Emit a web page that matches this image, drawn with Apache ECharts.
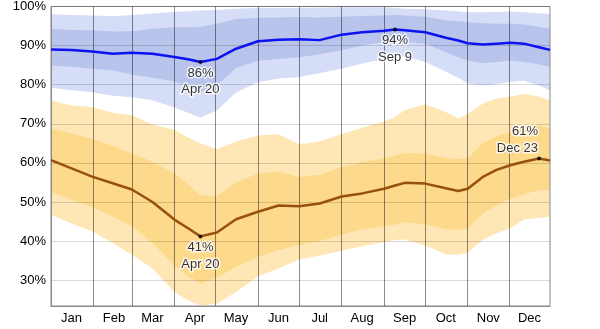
<!DOCTYPE html>
<html><head><meta charset="utf-8">
<script src="https://cdn.jsdelivr.net/npm/echarts@6/dist/echarts.min.js"></script>
<style>html,body{margin:0;padding:0;background:#fff}#c{width:600px;height:329px}</style>
</head><body><div id="c"></div>
<script>
const months = ['Jan','Feb','Mar','Apr','May','Jun','Jul','Aug','Sep','Oct','Nov','Dec'];
const monthLengths = [31,28,31,30,31,30,31,31,30,31,30,31];
const yTicks = [30,40,50,60,70,80,90,100];

const days = [0,15,30,45,59,74,90,100,109,121,135,151,166,181,196,212,227,243,251,258,273,288,297,304,315,325,335,345,356,364];

const blueMedian = [89.0,88.9,88.5,87.9,88.2,87.9,87.1,86.5,85.8,86.6,89.2,91.1,91.5,91.6,91.4,92.8,93.4,93.8,94.1,93.9,93.4,92.0,91.3,90.6,90.3,90.5,90.7,90.5,89.6,88.9];
const blueP75 = [94.3,94.0,93.9,93.6,93.7,94.3,94.7,94.7,94.8,95.6,96.8,97.1,97.2,97.3,97.2,97.4,97.6,97.7,97.8,97.7,97.4,96.5,96.2,96.0,95.7,95.6,95.6,95.4,94.8,94.3];
const blueP90 = [98.0,97.8,97.7,97.5,97.8,98.2,98.6,98.8,99.0,99.1,99.4,99.6,99.6,99.6,99.7,99.8,99.8,99.8,99.6,99.4,99.3,99.0,98.7,98.5,98.5,98.6,98.7,98.5,98.3,98.1];
const blueP25 = [84.9,84.6,84.1,83.6,82.6,81.8,80.8,79.6,78.2,79.8,84.3,86.1,86.6,87.0,87.8,88.8,90.0,90.9,91.0,90.9,90.5,88.3,87.0,86.2,85.5,85.8,86.2,85.8,85.2,84.5];
const blueP10 = [79.2,78.6,78.1,77.2,76.8,76.0,74.2,72.8,71.6,73.4,78.0,80.6,81.6,82.0,83.0,84.1,85.4,86.6,87.3,87.3,85.8,83.3,81.8,80.3,79.8,80.2,80.7,81.0,79.8,78.5];

const orangeMedian = [60.7,58.6,56.5,54.8,53.2,50.0,45.5,43.3,41.2,42.2,45.6,47.5,49.1,48.9,49.6,51.4,52.2,53.4,54.2,54.9,54.7,53.5,52.8,53.4,56.4,58.2,59.4,60.3,61.1,60.6];
const orangeP75 = [68.8,67.5,66.2,64.3,62.4,60.3,57.3,54.5,51.8,51.5,55.0,57.3,57.8,56.4,57.0,58.9,60.2,61.2,61.8,62.5,62.4,61.2,61.0,61.2,65.0,66.8,67.9,69.0,69.6,68.9];
const orangeP90 = [76.0,74.7,74.3,72.8,72.2,69.8,68.5,66.5,65.0,63.5,65.5,67.0,67.3,64.8,65.5,67.3,69.0,70.6,71.7,73.5,75.0,73.0,71.4,72.5,75.2,76.5,77.0,77.6,77.0,76.0];
const orangeP25 = [52.6,50.6,48.7,46.3,43.8,39.5,33.8,31.0,29.0,30.6,33.4,36.0,37.7,39.0,40.0,41.6,43.0,43.8,44.2,44.8,44.3,43.0,42.8,43.3,47.0,49.2,50.8,52.0,53.0,53.0];
const orangeP10 = [46.8,44.5,42.5,39.5,36.5,33.0,27.0,24.8,23.5,24.0,27.0,31.0,33.0,35.3,36.3,37.5,38.7,39.8,40.3,40.4,38.9,36.6,36.5,37.0,40.3,42.0,43.3,45.5,46.0,46.2];

const annDays = [109,109,251,356];
const annValues = [85.8,41.2,94.1,61.1];
const annDates = ['Apr 20','Apr 20','Sep 9','Dec 23'];

const monthStarts = [];
const monthMids = [];
let acc = 0;
monthLengths.forEach(function(l){ monthStarts.push(acc); monthMids.push(acc + 15); acc += l; });

function pairs(arr){ return days.map(function(d,i){ return [d, arr[i]]; }); }

// layered fills down to the axis minimum: outer band, inner band, outer band, then white below
function bandSeries(p10, p25, p75, p90, light, dark){
  const common = {type:'line', symbol:'none', silent:true, z:1, lineStyle:{width:0, opacity:0}};
  return [
    Object.assign({}, common, {data: pairs(p90), areaStyle:{color:light, opacity:1, origin:'start'}}),
    Object.assign({}, common, {data: pairs(p75), areaStyle:{color:dark, opacity:1, origin:'start'}}),
    Object.assign({}, common, {data: pairs(p25), areaStyle:{color:light, opacity:1, origin:'start'}}),
    Object.assign({}, common, {data: pairs(p10), areaStyle:{color:'#ffffff', opacity:1, origin:'start'}})
  ];
}

const font = 'Liberation Sans, Arial, sans-serif';
const series = [].concat(
  bandSeries(blueP10, blueP25, blueP75, blueP90, '#d6ddf6', '#b8c4ec'),
  bandSeries(orangeP10, orangeP25, orangeP75, orangeP90, '#fee7b5', '#fdd98c'),
  [
    {type:'line', data: pairs(blueMedian), symbol:'none', z:5, silent:true, lineStyle:{color:'#0d12f0', width:2.5}},
    {type:'line', data: pairs(orangeMedian), symbol:'none', z:5, silent:true, lineStyle:{color:'#98500f', width:2.5}},
    {type:'scatter', z:6, silent:true, symbolSize:4, itemStyle:{color:'#000'},
     data: annDays.map(function(d,i){
       const top = i === 3;
       return {value:[d, annValues[i]],
         label:{show:true, position: top ? 'top' : 'bottom', align: top ? 'right' : 'center',
           distance: top ? 0 : 1, offset: top ? [-1,0] : [0,0],
           formatter: Math.round(annValues[i]) + '%\n' + annDates[i],
           fontFamily: font, fontSize:13, lineHeight:16.5, color:'#000',
           textBorderColor:'#fff', textBorderWidth:3}};
     })}
  ]
);

const chart = echarts.init(document.getElementById('c'));
chart.setOption({
  animation:false,
  grid:{left:51, right:50, top:6, bottom:23, show:true, borderColor:'#8a8a8a', borderWidth:1, z:3},
  xAxis:{type:'value', min:0, max:364, z:3,
    axisLine:{show:true, lineStyle:{color:'#8a8a8a'}},
    axisTick:{show:false, customValues: monthStarts},
    splitLine:{show:true, lineStyle:{color:'rgba(0,0,0,0.45)', width:1}},
    axisLabel:{customValues: monthMids, margin:6, color:'#000', fontFamily:font, fontSize:13,
      formatter:function(v){ return months[monthMids.indexOf(v)] || ''; }}},
  yAxis:{type:'value', min:23.4, max:100, z:3,
    axisLine:{show:true, lineStyle:{color:'#8a8a8a'}},
    axisTick:{show:false, customValues: yTicks},
    splitLine:{show:true, lineStyle:{color:'rgba(0,0,0,0.15)', width:1}},
    axisLabel:{customValues: yTicks, margin:5, color:'#000', fontFamily:font, fontSize:13,
      formatter:function(v){ return v + '%'; }}},
  series: series
});
</script></body></html>
